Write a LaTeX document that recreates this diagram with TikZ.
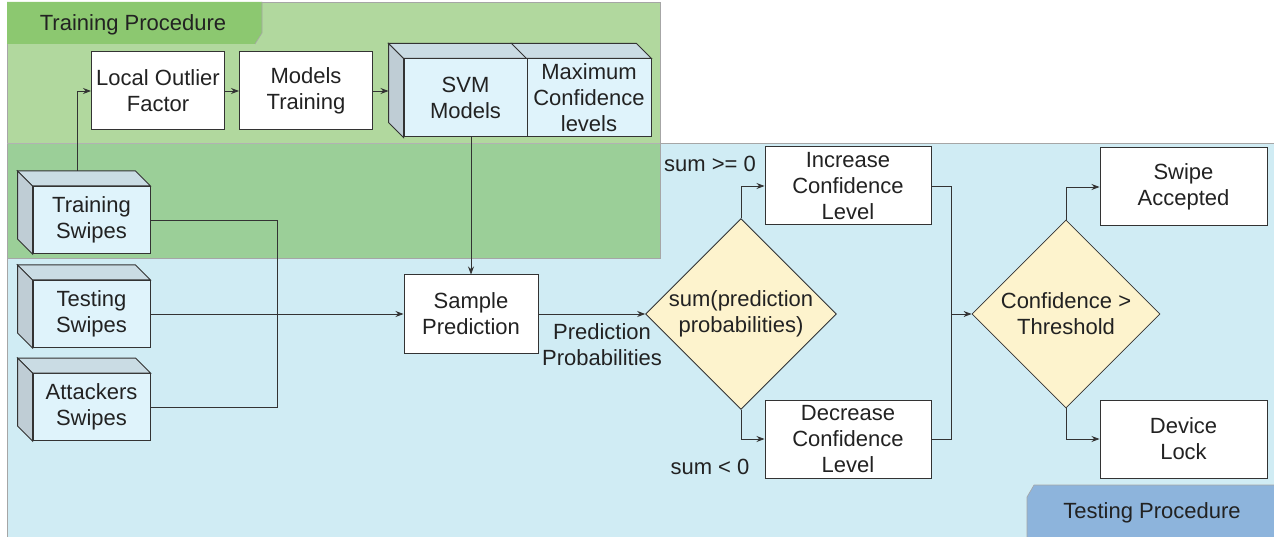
\documentclass[tikz,border=0pt]{standalone}
\usepackage{fontspec}
\setmainfont{Liberation Sans}
\usetikzlibrary{calc,arrows.meta,shapes.geometric}
\definecolor{greenreg}{HTML}{B1D89E}
\definecolor{greenover}{HTML}{9BCF98}
\definecolor{bluereg}{HTML}{D0ECF4}
\definecolor{greentab}{HTML}{8CC870}
\definecolor{bluetab}{HTML}{8DB4DC}
\definecolor{diamfill}{HTML}{FDF3CD}
\definecolor{cubefront}{HTML}{DFF3FB}
\definecolor{cubetop}{HTML}{CADCE4}
\definecolor{cubeside}{HTML}{BFCDD5}
\definecolor{ink}{HTML}{222222}
\definecolor{edge}{HTML}{333333}
\tikzset{
  txt/.style={font=\fontsize{22}{26}\selectfont, text=ink, align=center},
  procbox/.style={txt, draw=edge, line width=1pt, fill=white, inner sep=0pt},
  cubebox/.style={txt, draw=edge, line width=1pt, fill=cubefront, inner sep=0pt, minimum width=117pt, minimum height=67pt},
  decision/.style={txt, diamond, draw=edge, line width=0.8pt, fill=diamfill, inner sep=0pt, minimum width=188pt, minimum height=188pt},
  conn/.style={draw=edge, line width=0.9pt},
  arr/.style={conn, -{Stealth[length=8pt,width=6pt]}},
  lbl/.style={txt}
}
\newcommand\cubetopface[1]{%
  \filldraw[fill=cubetop, draw=edge, line width=1pt] (#1.north west) -- ++(-15,-15) -- ($(#1.north east)+(-15,-15)$) -- (#1.north east) -- cycle;}
\newcommand\cubesideface[1]{%
  \filldraw[fill=cubeside, draw=edge, line width=1pt] (#1.north west) -- ++(-15,-15) -- ($(#1.south west)+(-15,-15)$) -- (#1.south west) -- cycle;}
\begin{document}
\begin{tikzpicture}[x=1pt,y=-1pt]
\useasboundingbox (0,0) rectangle (1274,537);
% regions
\fill[bluereg] (7,143) rectangle (1274,537);
\fill[greenreg] (7,2) rectangle (660,143);
\fill[greenover] (7,143) rectangle (660,258);
\draw[gray!70, line width=0.8pt] (7,2) -- (660,2) -- (660,258) -- (7,258);
\draw[gray!70, line width=0.8pt] (660,143) -- (1274,143);
\draw[gray!70, line width=0.8pt] (7,2) -- (7,537) -- (1274,537);
\draw[gray!60, line width=0.6pt] (7,143) -- (660,143);
% tabs
\fill[greentab] (7,2) -- (262,2) -- (262,33) -- (255,44) -- (7,44) -- cycle;
\draw[gray!70, line width=0.6pt] (262,2) -- (262,33) -- (255,44);
\node[lbl] (trainlbl) at (133,25) {Training Procedure};
\fill[bluetab] (1027,497) -- (1034,485) -- (1274,485) -- (1274,537) -- (1027,537) -- cycle;
\draw[gray!70, line width=0.6pt] (1027,537) -- (1027,497) -- (1034,485) -- (1274,485);
\node[lbl] (testlbl) at (1152,513) {Testing Procedure};
% training boxes
\node[procbox, minimum width=133pt, minimum height=78pt] (lof) at (158,91) {Local Outlier\\Factor};
\node[procbox, minimum width=133pt, minimum height=78pt] (mt) at (306,91) {Models\\Training};
% SVM cube
\node[cubebox, minimum width=123pt, minimum height=78pt] (svm) at (465.5,98) {SVM\\Models};
\node[cubebox, minimum width=124pt, minimum height=78pt] (maxc) at (589,98) {Maximum\\Confidence\\levels};
\cubetopface{svm}
\cubetopface{maxc}
\cubesideface{svm}
% swipes cubes
\node[cubebox] (trs) at (91.5,220) {Training\\Swipes};
\node[cubebox] (tes) at (91.5,314) {Testing\\Swipes};
\node[cubebox] (ats) at (91.5,407) {Attackers\\Swipes};
\foreach \c in {trs,tes,ats} {\cubetopface{\c}\cubesideface{\c}}
% testing
\node[procbox, minimum width=134pt, minimum height=78pt] (sp) at (471,314) {Sample\\Prediction};
\node[decision] (d1) at (741,314) {sum(prediction\\probabilities)};
\node[procbox, minimum width=166pt, minimum height=78pt] (inc) at (848,186) {Increase\\Confidence\\Level};
\node[procbox, minimum width=166pt, minimum height=78pt] (dec) at (848,439) {Decrease\\Confidence\\Level};
\node[decision] (d2) at (1066,314) {Confidence >\\Threshold};
\node[procbox, minimum width=167pt, minimum height=78pt] (acc) at (1183.5,187) {Swipe\\Accepted};
\node[procbox, minimum width=167pt, minimum height=78pt] (lock) at (1183.5,439) {Device\\Lock};
% labels
\node[lbl] (pplbl) at (602,345) {Prediction\\Probabilities};
\node[lbl] (geq) at (710,164) {sum >= 0};
\node[lbl] (lt) at (710,467) {sum < 0};
% connectors
\coordinate (trtop) at (77,171);
\coordinate (jx) at (277,314);
\draw[arr] (trtop) |- (lof.west);
\draw[arr] (lof) -- (mt);
\draw[arr] (mt.east) -- ($(svm.west)+(-15,-7)$);
\draw[conn] (trs.east) -| (jx);
\draw[conn] (ats.east) -| (jx);
\draw[arr] (tes.east) -- (sp.west);
\draw[arr] (sp.north |- svm.south) -- (sp.north);
\draw[arr] (sp.east) -- (d1.west);
\draw[arr] (d1.north) |- (inc.west);
\draw[arr] (d1.south) |- (dec.west);
\coordinate (mx) at (951,314);
\draw[conn] (inc.east) -| (mx);
\draw[conn] (dec.east) -| (mx);
\draw[arr] (mx) -- (d2.west);
\draw[arr] (d2.north) |- (acc.west);
\draw[arr] (d2.south) |- (lock.west);
\end{tikzpicture}
\end{document}
